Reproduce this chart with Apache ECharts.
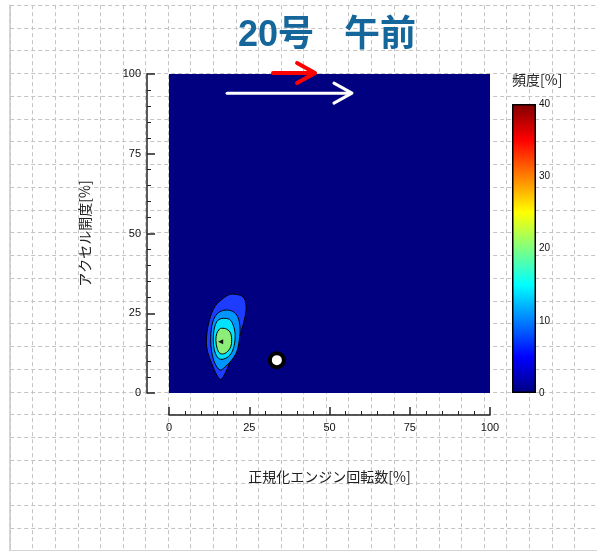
<!DOCTYPE html>
<html><head><meta charset="utf-8">
<script src="https://cdn.jsdelivr.net/npm/echarts@6/dist/echarts.min.js"></script>
<style>html,body{margin:0;padding:0;background:#fff;}#c{width:597px;height:551px;}</style>
</head><body><div id="c"></div>
<script>
// ---- data ----
const titleText = '20号   午前';
const xName = '正規化エンジン回転数[%]';
const yName = 'アクセル開度[%]';
const cbName = '頻度[%]';
const axisMin = 0, axisMax = 100, axisStep = 25;
const cbMin = 0, cbMax = 40, cbStep = 10;
const contourLevels = [5, 10, 15, 20];
const contourL5 = [[20.0,31.0],[23.0,30.2],[24.0,27.6],[23.7,23.9],[22.6,19.7],[21.1,15.5],[19.5,11.4],[18.2,7.7],[16.9,5.1],[16.1,4.3],[14.9,5.6],[13.3,9.3],[11.9,13.5],[11.7,17.6],[12.6,22.9],[14.3,27.1],[16.9,29.7],[18.5,30.7]];
const contourL10 = [[18.0,26.0],[20.0,25.5],[21.4,23.9],[22.1,20.8],[21.9,16.6],[21.1,12.9],[19.5,10.3],[17.4,8.1],[15.9,7.2],[14.3,9.3],[13.3,12.9],[13.0,16.6],[13.3,20.8],[14.3,23.9],[15.9,25.5]];
const contourL15 = [[16.9,23.4],[18.8,23.1],[20.0,21.3],[20.6,18.2],[20.2,14.5],[19.0,11.9],[16.9,10.6],[15.4,10.9],[14.3,12.9],[13.8,16.1],[14.0,19.7],[14.9,22.4],[15.9,23.2]];
const contourL20 = [[16.4,20.3],[18.0,20.0],[19.2,18.7],[19.5,16.1],[19.0,14.0],[17.4,12.4],[15.9,12.4],[15.0,14.0],[14.6,16.6],[14.9,18.7],[15.7,20.0]];
const peakPoint = [[16.1, 16.1]];
const operatingPoint = [[33.6, 10.3]];
const arrowRed = [[32.4, 45.5, 100.3]];
const arrowWhite = [[18.1, 57.0, 94.0]];

// ---- styles ----
const contourPolys = [contourL5, contourL10, contourL15, contourL20];
const bandColors = ['#1e3cff', '#0094ff', '#00e2ff', '#8cee78'];
const jetStops = [
  {offset:0, color:'#000080'},{offset:0.125, color:'#0000ff'},{offset:0.375, color:'#00ffff'},
  {offset:0.625, color:'#ffff00'},{offset:0.875, color:'#ff0000'},{offset:1, color:'#800000'}];
const latin = '"Liberation Sans", "Noto Sans CJK JP", sans-serif';
const cjk = '"Noto Sans CJK JP", "Liberation Sans", sans-serif';

const chart = echarts.init(document.getElementById('c'), null, {renderer:'canvas'});

function arrowRender(color, width) {
  return function (params, api) {
    const p1 = api.coord([api.value(0), api.value(2)]);
    const p2 = api.coord([api.value(1), api.value(2)]);
    return {
      type:'group',
      children:[
        {type:'line', shape:{x1:p1[0], y1:p1[1], x2:p2[0]-1, y2:p2[1]}, style:{stroke:color, lineWidth:width, lineCap:'round'}},
        {type:'polyline', shape:{points:[[p2[0]-18,p2[1]-10],[p2[0],p2[1]],[p2[0]-18,p2[1]+10]]}, style:{stroke:color, lineWidth:width, fill:null, lineCap:'round', lineJoin:'round'}}
      ]
    };
  };
}

const option = {
  backgroundColor:'#ffffff',
  animation:false,
  grid:[
    {left:169, top:74, width:321, height:319, show:true, backgroundColor:'#000080', borderWidth:0},
    {left:512, top:104, width:24, height:289},
    {left:10.17, top:5.2, width:593.6, height:547.2, z:-1}
  ],
  xAxis:[
    {gridIndex:0, type:'value', min:axisMin, max:axisMax, interval:axisStep, offset:22,
     name:xName, nameLocation:'middle', nameGap:55,
     nameTextStyle:{fontFamily:cjk, fontSize:14, color:'#222'},
     axisLine:{show:true, onZero:false, lineStyle:{color:'#222', width:1.5}},
     axisTick:{show:true, inside:true, length:8, lineStyle:{color:'#222', width:1.5}},
     minorTick:{show:true, splitNumber:5, length:4, lineStyle:{color:'#222', width:1}},
     axisLabel:{margin:7, fontFamily:latin, fontSize:11, color:'#111'},
     splitLine:{show:false}},
    {gridIndex:1, type:'category', data:['c'], show:false},
    {gridIndex:2, type:'value', min:0, max:26, interval:1, position:'top', z:-1,
     axisLine:{show:true, lineStyle:{color:'#c8c8c8', width:1.5}},
     axisTick:{show:false}, axisLabel:{show:false},
     splitLine:{show:true, lineStyle:{color:'#c4c4c4', width:1, type:[4,3]}}}
  ],
  yAxis:[
    {gridIndex:0, type:'value', min:axisMin, max:axisMax, interval:axisStep, offset:22,
     name:yName, nameLocation:'middle', nameGap:55, nameRotate:90,
     nameTextStyle:{fontFamily:cjk, fontSize:14, color:'#222'},
     axisLine:{show:true, onZero:false, lineStyle:{color:'#222', width:1.5}},
     axisTick:{show:true, inside:true, length:8, lineStyle:{color:'#222', width:1.5}},
     minorTick:{show:true, splitNumber:5, length:4, lineStyle:{color:'#222', width:1}},
     axisLabel:{margin:6, fontFamily:latin, fontSize:11, color:'#111'},
     splitLine:{show:false}},
    {gridIndex:1, type:'value', min:cbMin, max:cbMax, interval:cbStep, position:'right',
     axisLine:{show:false}, axisTick:{show:false},
     axisLabel:{margin:3, fontFamily:latin, fontSize:10, color:'#111'},
     splitLine:{show:false}},
    {gridIndex:2, type:'value', min:0, max:24, interval:1, position:'left', z:-1,
     axisLine:{show:true, lineStyle:{color:'#c8c8c8', width:1.5}},
     axisTick:{show:false}, axisLabel:{show:false},
     splitLine:{show:true, lineStyle:{color:'#c4c4c4', width:1, type:[4,3]}}}
  ],
  graphic:[
    {type:'text', x:327, y:36, z:10, style:{text:titleText, align:'center', verticalAlign:'middle',
      fontSize:36, fontWeight:'bold', fontFamily:latin, fill:'#15669a'}},
    {type:'text', x:512, y:80, z:10, style:{text:cbName, align:'left', verticalAlign:'middle',
      fontSize:14, fontFamily:cjk, fill:'#222'}}
  ],
  series:[
    {type:'custom', name:'contour', xAxisIndex:0, yAxisIndex:0, clip:false,
     data: contourLevels.map((lv, i) => [i, lv]),
     renderItem:function(params, api){
       const poly = contourPolys[params.dataIndex];
       return {type:'polygon', z2:params.dataIndex,
         shape:{points: poly.map(p => api.coord(p)), smooth:0.35},
         style:{fill:bandColors[params.dataIndex], stroke:'#000', lineWidth:1}};
     }},
    {type:'scatter', xAxisIndex:0, yAxisIndex:0, data:peakPoint, symbol:'triangle', symbolSize:5,
     symbolRotate:90, itemStyle:{color:'#111', opacity:1}, z:5},
    {type:'scatter', xAxisIndex:0, yAxisIndex:0, data:operatingPoint, symbol:'circle', symbolSize:14,
     itemStyle:{color:'#ffffff', borderColor:'#000', borderWidth:4, opacity:1}, z:6},
    {type:'custom', xAxisIndex:0, yAxisIndex:0, clip:false, data:arrowRed, encode:{x:[0,1], y:2},
     renderItem:arrowRender('#ff0000', 4), z:7},
    {type:'custom', xAxisIndex:0, yAxisIndex:0, clip:false, data:arrowWhite, encode:{x:[0,1], y:2},
     renderItem:arrowRender('#ffffff', 3), z:7},
    {type:'bar', xAxisIndex:1, yAxisIndex:1, data:[cbMax], barWidth:'100%',
     itemStyle:{color:new echarts.graphic.LinearGradient(0,1,0,0,jetStops), borderColor:'#000', borderWidth:1.5}}
  ]
};
chart.setOption(option);
</script>
</body></html>
